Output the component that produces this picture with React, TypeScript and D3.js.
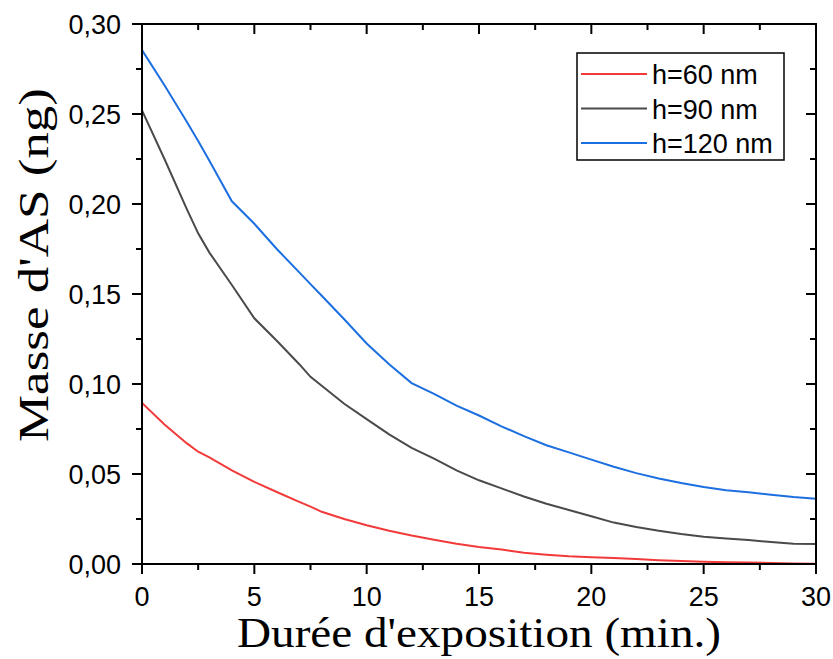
import React from "react";
import * as d3 from "d3";

const times = [0, 1, 2, 2.5, 3, 4, 5, 6, 7, 7.5, 8, 9, 10, 11, 12, 13, 14, 15, 16, 17, 18, 19, 20, 21, 22, 23, 24, 25, 26, 27, 28, 29, 30];
const h60 = [0.0895, 0.0775, 0.067, 0.0624, 0.0592, 0.052, 0.0456, 0.040, 0.0345, 0.0319, 0.029, 0.025, 0.0215, 0.0185, 0.0158, 0.0135, 0.0113, 0.0095, 0.008, 0.0063, 0.0052, 0.0043, 0.0037, 0.0033, 0.0028, 0.0021, 0.0016, 0.0012, 0.0010, 0.0009, 0.0005, 0.0003, 0.0002];
const h90 = [0.252, 0.225, 0.197, 0.1837, 0.173, 0.155, 0.1365, 0.124, 0.111, 0.104, 0.099, 0.089, 0.0805, 0.072, 0.0645, 0.0585, 0.052, 0.0465, 0.042, 0.0375, 0.0335, 0.030, 0.0265, 0.023, 0.0205, 0.0185, 0.0167, 0.0152, 0.0142, 0.0133, 0.0122, 0.0113, 0.0111];
const h120 = [0.2855, 0.266, 0.2455, 0.235, 0.224, 0.2015, 0.189, 0.175, 0.162, 0.1555, 0.149, 0.136, 0.1225, 0.111, 0.1005, 0.0945, 0.088, 0.0825, 0.0765, 0.071, 0.066, 0.062, 0.058, 0.054, 0.0505, 0.0475, 0.045, 0.0428, 0.041, 0.0398, 0.0385, 0.0372, 0.0363];

const seriesNames = ["h=60 nm", "h=90 nm", "h=120 nm"];
const seriesColors = ["#f23a3a", "#4a4a4a", "#1c6fe0"];
const xTicks = [0, 5, 10, 15, 20, 25, 30];
const yTicks = [0, 0.05, 0.1, 0.15, 0.2, 0.25, 0.3];

export default function App() {
  const W = 833, H = 659;
  const left = 142, right = 816, top = 24, bottom = 564;
  const x = d3.scaleLinear().domain([0, 30]).range([left, right]);
  const y = d3.scaleLinear().domain([0, 0.3]).range([bottom, top]);
  const allSeries = [h60, h90, h120];
  const line = d3.line<[number, number]>().x(d => x(d[0])).y(d => y(d[1]));
  const xMinor = d3.range(0, 30.01, 2.5).filter(v => v % 5 !== 0);
  const yMinor = d3.range(0, 0.3001, 0.025).filter((v, i) => i % 2 === 1);
  const fmt = (v: number) => v.toFixed(2).replace(".", ",");
  const tickFont = "Arial, 'Liberation Sans', sans-serif";
  const serif = "'Liberation Serif', 'Times New Roman', serif";
  return (
    <svg width={W} height={H} style={{ position: "absolute", left: 0, top: 0, background: "#fff" }}>
      <rect x={0} y={0} width={W} height={H} fill="#fff" />
      <defs>
        <clipPath id="plot">
          <rect x={left} y={top} width={right - left} height={bottom - top} />
        </clipPath>
      </defs>
      <g clipPath="url(#plot)">
        {allSeries.map((s, i) => (
          <path key={i} d={line(times.map((t, j) => [t, s[j]]) as [number, number][]) || ""} fill="none" stroke={seriesColors[i]} strokeWidth={2} />
        ))}
      </g>
      <rect x={left} y={top} width={right - left} height={bottom - top} fill="none" stroke="#000" strokeWidth={2} />
      {xTicks.map(t => (
        <g key={"xt" + t}>
          <line x1={x(t)} x2={x(t)} y1={bottom} y2={bottom + 10} stroke="#000" strokeWidth={2} />
          <line x1={x(t)} x2={x(t)} y1={top} y2={top + 10} stroke="#000" strokeWidth={2} />
          <text x={x(t)} y={bottom + 42} textAnchor="middle" fontFamily={tickFont} fontSize={27}>{t}</text>
        </g>
      ))}
      {xMinor.map(t => (
        <g key={"xm" + t}>
          <line x1={x(t)} x2={x(t)} y1={bottom} y2={bottom + 6} stroke="#000" strokeWidth={2} />
          <line x1={x(t)} x2={x(t)} y1={top} y2={top + 6} stroke="#000" strokeWidth={2} />
        </g>
      ))}
      {yTicks.map(t => (
        <g key={"yt" + t}>
          <line x1={left - 10} x2={left} y1={y(t)} y2={y(t)} stroke="#000" strokeWidth={2} />
          <line x1={right - 10} x2={right} y1={y(t)} y2={y(t)} stroke="#000" strokeWidth={2} />
          <text x={left - 21} y={y(t) + 10} textAnchor="end" fontFamily={tickFont} fontSize={27}>{fmt(t)}</text>
        </g>
      ))}
      {yMinor.map(t => (
        <g key={"ym" + t}>
          <line x1={left - 6} x2={left} y1={y(t)} y2={y(t)} stroke="#000" strokeWidth={2} />
          <line x1={right - 6} x2={right} y1={y(t)} y2={y(t)} stroke="#000" strokeWidth={2} />
        </g>
      ))}
      <text x={479} y={647} textAnchor="middle" fontFamily={serif} fontSize={42} textLength={484} lengthAdjust="spacingAndGlyphs">Durée d'exposition (min.)</text>
      <text transform="translate(48, 265) rotate(-90)" textAnchor="middle" fontFamily={serif} fontSize={43} textLength={354} lengthAdjust="spacingAndGlyphs">Masse d'AS (ng)</text>
      <rect x={577} y={53} width={207} height={107} fill="#fff" stroke="#000" strokeWidth={1.5} />
      {seriesNames.map((n, i) => (
        <g key={n}>
          <line x1={581} x2={647} y1={74 + i * 34.5} y2={74 + i * 34.5} stroke={seriesColors[i]} strokeWidth={2} />
          <text x={652} y={74 + i * 34.5 + 10} fontFamily={tickFont} fontSize={27}>{n}</text>
        </g>
      ))}
    </svg>
  );
}
